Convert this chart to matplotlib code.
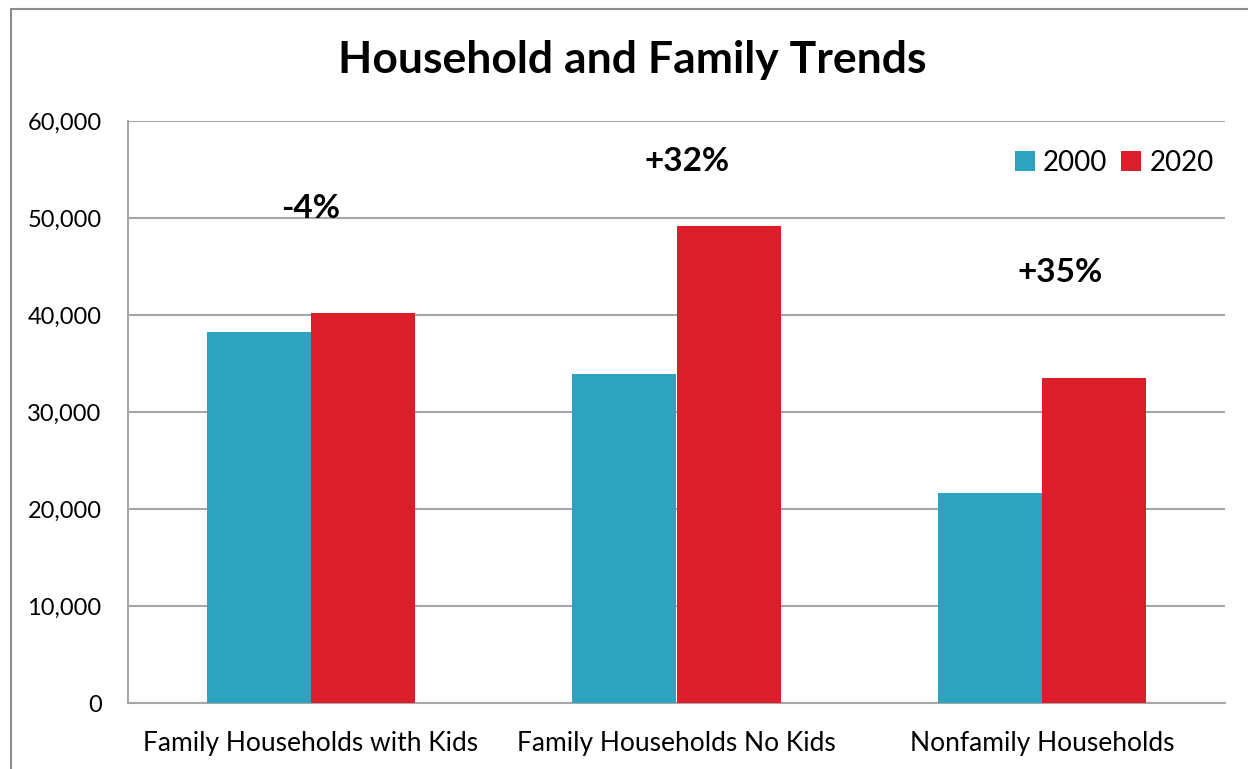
import matplotlib.pyplot as plt
import matplotlib.patches as mpatches
import numpy as np

plt.rcParams['font.family'] = ['Lato', 'DejaVu Sans']

categories = ['Family Households with Kids', 'Family Households No Kids', 'Nonfamily Households']
values_2000 = [38200, 33900, 21700]
values_2020 = [40200, 49200, 33500]
change_labels = ['-4%', '+32%', '+35%']
change_y = [51000, 55800, 44400]
change_dx = [0.0, 0.03, 0.05]

teal = '#2EA3C0'
red = '#DB1F2A'
grid_grey = '#A6A6A6'

fig = plt.figure(figsize=(12.48, 7.69), dpi=100)
ax = fig.add_axes([128 / 1248, 1 - 703 / 769, (1225 - 128) / 1248, (703 - 121) / 769])

x = np.arange(len(categories))
w = 0.285
ax.bar(x - w / 2, values_2000, w, color=teal, label='2000', zorder=3)
ax.bar(x + w / 2, values_2020, w, color=red, label='2020', zorder=3)

for i, lab in enumerate(change_labels):
    ax.text(x[i] + change_dx[i], change_y[i], lab, ha='center', va='center',
            fontsize=24, fontweight='bold', zorder=4)

ax.set_xlim(-0.5, 2.5)
ax.set_ylim(0, 60000)
ax.set_yticks(range(0, 60001, 10000))
ax.set_yticklabels([f'{v:,}' for v in range(0, 60001, 10000)], fontsize=17)
ax.set_xticks(x)
ax.set_xticklabels(categories, fontsize=19)
ax.tick_params(axis='y', length=0, pad=19)
ax.tick_params(axis='x', length=0, pad=20)
ax.grid(axis='y', color=grid_grey, linewidth=1.5, zorder=0)
for s in ['top', 'right']:
    ax.spines[s].set_visible(False)
for s in ['left', 'bottom']:
    ax.spines[s].set_color(grid_grey)
    ax.spines[s].set_linewidth(1.5)

leg = ax.legend(loc='upper right', bbox_to_anchor=(1.0, 0.97), ncol=2, frameon=False,
                fontsize=20, handlelength=0.72, handleheight=0.72, handletextpad=0.3,
                columnspacing=0.5, borderaxespad=0.0)

fig.text(632 / 1248, 1 - 60 / 769, 'Household and Family Trends', ha='center', va='center',
         fontsize=32, fontweight='bold')

fig.patches.append(mpatches.Rectangle((11 / 1248, -0.5), 2, 1.5 - 9 / 769,
                                      transform=fig.transFigure, fill=False,
                                      edgecolor='#8C8C8C', linewidth=1.5))

fig.savefig('out.png', dpi=100)
